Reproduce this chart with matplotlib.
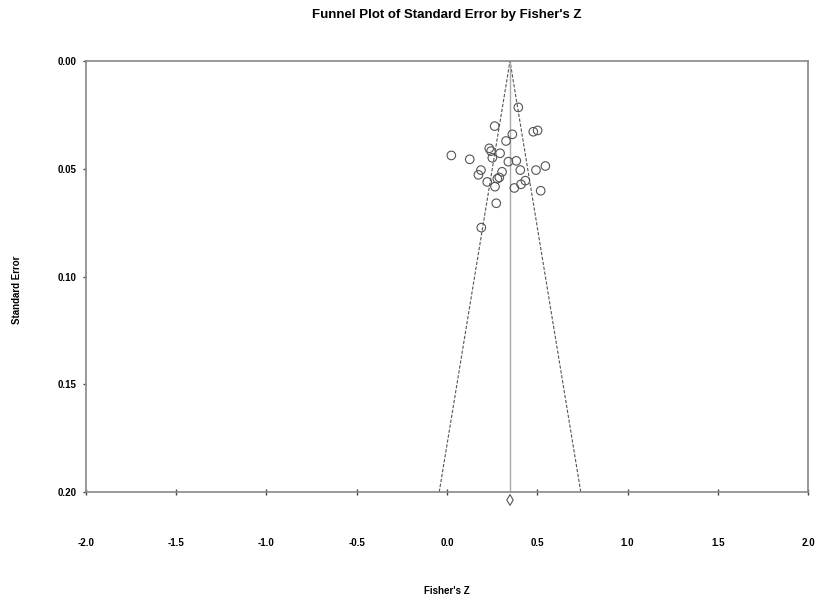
import matplotlib.pyplot as plt
import numpy as np

# study effect sizes (Fisher's Z) and standard errors
fisher_z = [0.395, 0.264, 0.362, 0.478, 0.502, 0.327, 0.234, 0.244, 0.294, 0.024,
            0.251, 0.126, 0.340, 0.384, 0.545, 0.493, 0.406, 0.188, 0.174, 0.305,
            0.290, 0.279, 0.223, 0.434, 0.410, 0.373, 0.266, 0.519, 0.273, 0.190]
std_err = [0.0215, 0.0302, 0.0340, 0.0328, 0.0322, 0.0371, 0.0405, 0.0418, 0.0428, 0.0438,
           0.0449, 0.0456, 0.0467, 0.0463, 0.0487, 0.0506, 0.0506, 0.0506, 0.0528, 0.0514,
           0.0540, 0.0546, 0.0561, 0.0555, 0.0572, 0.0589, 0.0583, 0.0602, 0.0660, 0.0773]
pooled_z = 0.349
pooled_marker_se = 0.2037
se_max = 0.20

x_ticks = [-2.0, -1.5, -1.0, -0.5, 0.0, 0.5, 1.0, 1.5, 2.0]
y_ticks = [0.00, 0.05, 0.10, 0.15, 0.20]

plt.rcParams['font.family'] = ['Liberation Sans', 'DejaVu Sans']
plt.rcParams['font.weight'] = 'bold'

fig = plt.figure(figsize=(8.29, 6.01), dpi=100)
fig.patch.set_facecolor('white')
ax = fig.add_axes([0.1037, 0.1814, 0.871, 0.717])

# funnel (95% limits) and mean line
ax.plot([pooled_z - 1.96 * se_max, pooled_z, pooled_z + 1.96 * se_max], [se_max, 0, se_max],
        color='#555555', lw=0.8, ls=(0, (3, 1.5)))
ax.plot([pooled_z, pooled_z], [0, se_max], color='#aaaaaa', lw=1.0)

ax.scatter(fisher_z, std_err, s=38, facecolors='none', edgecolors='#555555', linewidths=0.8, zorder=3)
ax.scatter([pooled_z], [pooled_marker_se], marker='d', s=30, facecolors='none',
           edgecolors='#555555', linewidths=0.8, clip_on=False, zorder=3)

ax.set_xlim(-2, 2)
ax.set_ylim(se_max, 0)
ax.set_xticks(x_ticks)
ax.set_yticks(y_ticks)
ax.set_xticklabels(['%.1f' % v for v in x_ticks])
ax.set_yticklabels(['%.2f' % v for v in y_ticks])
ax.tick_params(axis='x', direction='inout', length=4, width=1, color='#444444', pad=31, labelsize=7)
ax.tick_params(axis='y', direction='out', length=2, width=1, color='#444444', pad=5, labelsize=7)
for s in ax.spines.values():
    s.set_color('#888888')
    s.set_linewidth(1.2)

fig.text(0.539, 0.975, "Funnel Plot of Standard Error by Fisher's Z", fontsize=9.5,
         fontweight='bold', ha='center', va='center')
fig.text(0.539, 0.009, "Fisher's Z", fontsize=7, fontweight='bold', ha='center', va='bottom')
fig.text(0.021, 0.517, "Standard Error", fontsize=7, fontweight='bold', rotation=90, ha='center', va='center')

plt.savefig("out.png", dpi=100)
